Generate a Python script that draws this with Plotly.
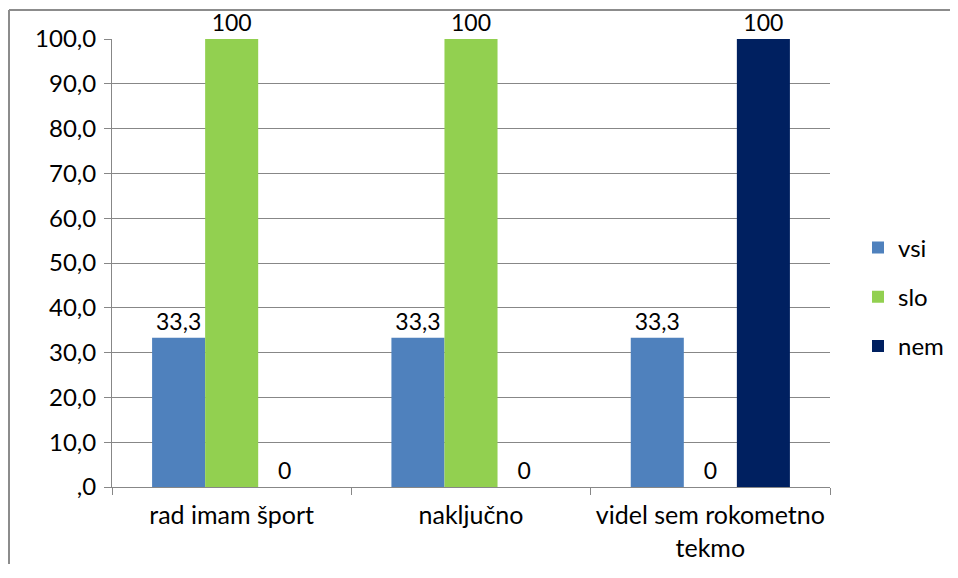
import plotly.graph_objects as go

categories = ["rad imam šport", "naključno", "videl sem rokometno<br>tekmo"]
vsi = [33.3, 33.3, 33.3]
slo = [100, 100, 0]
nem = [0, 0, 100]
series = [("vsi", vsi, "#4f81bd"), ("slo", slo, "#92d050"), ("nem", nem, "#002060")]

tick_vals = [0, 10, 20, 30, 40, 50, 60, 70, 80, 90, 100]
tick_text = [",0", "10,0", "20,0", "30,0", "40,0", "50,0", "60,0", "70,0", "80,0", "90,0", "100,0"]

FONT = "Lato, Carlito, Calibri, sans-serif"
GRID = "#878787"

# the page body adds an 8px margin, so the figure is kept a bit smaller than the window
W, H = 944, 556
L, R, T, B = 104, 122, 31, 77
pw, ph = W - L - R, H - T - B


def fmt(v):
    return f"{v:g}".replace(".", ",")


fig = go.Figure()
for name, values, color in series:
    fig.add_trace(
        go.Bar(
            name=name,
            x=categories,
            y=values,
            marker=dict(color=color, line=dict(width=0)),
            text=[fmt(v) for v in values],
            textposition="outside",
            textfont=dict(family=FONT, size=23, color="#000000"),
            cliponaxis=False,
            legendgroup=name,
        )
    )

fig.update_layout(
    width=W,
    height=H,
    margin=dict(l=L, r=R, t=T, b=B, autoexpand=False),
    paper_bgcolor="white",
    plot_bgcolor="white",
    font=dict(family=FONT, size=24, color="#000000"),
    barmode="group",
    bargap=0.335,
    bargroupgap=0,
    showlegend=True,
    legend=dict(
        x=(850 - L) / pw,
        y=(ph - (297 - 8 - T)) / ph,
        xanchor="left",
        yanchor="middle",
        font=dict(family=FONT, size=24, color="#000000"),
        tracegroupgap=15,
        traceorder="grouped",
        itemwidth=30,
        bgcolor="rgba(0,0,0,0)",
    ),
)

fig.update_yaxes(
    range=[0, 100],
    tickmode="array",
    tickvals=tick_vals,
    ticktext=tick_text,
    showgrid=True,
    gridcolor=GRID,
    gridwidth=1,
    showline=True,
    linecolor=GRID,
    linewidth=1,
    ticks="outside",
    ticklen=7,
    tickcolor=GRID,
    zeroline=False,
    ticklabelstandoff=3,
)
fig.update_xaxes(
    showline=True,
    linecolor=GRID,
    linewidth=1,
    ticks="outside",
    tickson="boundaries",
    ticklen=7,
    tickcolor=GRID,
    showgrid=False,
    ticklabelstandoff=6,
    tickfont=dict(family=FONT, size=25, color="#000000"),
)

# outer chart frame (top and left edges are visible)
frame_x0 = (1 - L) / pw
frame_x1 = (W - L) / pw
frame_y0 = 1 + (T - 2) / ph
frame_y1 = -B / ph
fig.add_shape(type="line", xref="paper", yref="paper", x0=frame_x0, x1=frame_x1,
              y0=frame_y0, y1=frame_y0, line=dict(color="#8c8c8c", width=2))
fig.add_shape(type="line", xref="paper", yref="paper", x0=frame_x0, x1=frame_x0,
              y0=frame_y0, y1=frame_y1, line=dict(color="#8c8c8c", width=2))

fig.write_html("out.html", config={"displayModeBar": False})
